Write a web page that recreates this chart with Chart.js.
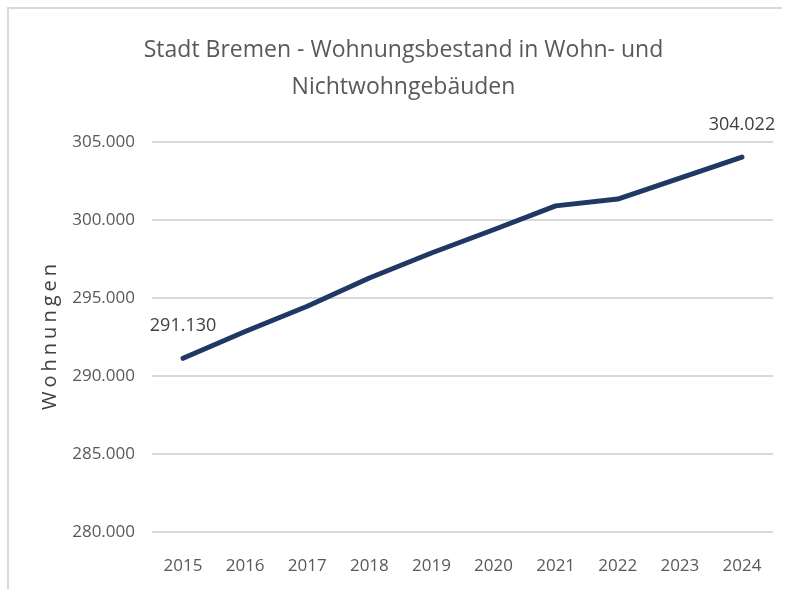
<!DOCTYPE html>
<html>
<head>
<meta charset="utf-8">
<script src="https://cdn.jsdelivr.net/npm/chart.js@4/dist/chart.umd.min.js"></script>
<style>
  html, body { margin: 0; padding: 0; background: #ffffff; }
  #wrap { width: 787px; height: 589px; position: relative; }
</style>
</head>
<body>
<div id="wrap"><canvas id="c" width="787" height="589"></canvas></div>
<script>
const categories = ['2015', '2016', '2017', '2018', '2019', '2020', '2021', '2022', '2023', '2024'];
const wohnungen = [291130, 292850, 294470, 296280, 297880, 299370, 300900, 301340, 302680, 304022];
const labeledIndices = [0, 9];
const titleLines = ['Stadt Bremen - Wohnungsbestand in Wohn- und', 'Nichtwohngebäuden'];
const yAxisTitle = 'Wohnungen';

function fmt(v) {
  return String(Math.round(v)).replace(/\B(?=(\d{3})+(?!\d))/g, '.');
}

const FONT = "'Open Sans', 'Noto Sans', sans-serif";

const frame = {
  id: 'frame',
  beforeDraw(chart) {
    const ctx = chart.ctx;
    ctx.save();
    ctx.strokeStyle = '#d9d9d9';
    ctx.lineWidth = 2;
    ctx.beginPath();
    ctx.moveTo(8, 589);
    ctx.lineTo(8, 8);
    ctx.lineTo(782, 8);
    ctx.stroke();
    ctx.restore();
  }
};

const yTitle = {
  id: 'yTitle',
  afterDraw(chart) {
    const ctx = chart.ctx;
    const area = chart.chartArea;
    ctx.save();
    ctx.translate(50, (area.top + area.bottom) / 2);
    ctx.rotate(-Math.PI / 2);
    ctx.font = "20px " + FONT;
    ctx.letterSpacing = '4px';
    ctx.fillStyle = '#404040';
    ctx.textAlign = 'center';
    ctx.textBaseline = 'middle';
    ctx.fillText(yAxisTitle, 2, 0);
    ctx.restore();
  }
};

const valueLabels = {
  id: 'valueLabels',
  afterDatasetsDraw(chart) {
    const ctx = chart.ctx;
    const meta = chart.getDatasetMeta(0);
    ctx.save();
    ctx.font = "18px " + FONT;
    ctx.fillStyle = '#404040';
    ctx.textAlign = 'center';
    ctx.textBaseline = 'middle';
    labeledIndices.forEach(i => {
      const pt = meta.data[i];
      ctx.fillText(fmt(wohnungen[i]), pt.x, pt.y - 32);
    });
    ctx.restore();
  }
};

new Chart(document.getElementById('c'), {
  type: 'line',
  data: {
    labels: categories,
    datasets: [{
      data: wohnungen,
      borderColor: '#203864',
      borderWidth: 5,
      borderCapStyle: 'round',
      borderJoinStyle: 'round',
      pointRadius: 0,
      tension: 0,
      fill: false
    }]
  },
  options: {
    responsive: false,
    animation: false,
    layout: { padding: { left: 34, right: 14, top: 0, bottom: 0 } },
    plugins: {
      legend: { display: false },
      tooltip: { enabled: false },
      title: {
        display: true,
        text: titleLines,
        color: '#595959',
        font: { family: FONT, size: 23, weight: 'normal', lineHeight: 1.65 },
        padding: { top: 31, bottom: 35 }
      }
    },
    scales: {
      x: {
        offset: true,
        grid: { display: false, offset: true },
        border: { display: false },
        ticks: {
          color: '#595959',
          font: { family: FONT, size: 17 },
          padding: 16,
          maxRotation: 0
        },
        afterFit(scale) { scale.height = 57; }
      },
      y: {
        min: 280000,
        max: 305000,
        grid: { color: '#d9d9d9', lineWidth: 2, drawTicks: false },
        border: { display: false },
        ticks: {
          stepSize: 5000,
          color: '#595959',
          font: { family: FONT, size: 17 },
          padding: 17,
          callback: v => fmt(v)
        },
        afterFit(scale) { scale.width = 118; }
      }
    }
  },
  plugins: [frame, yTitle, valueLabels]
});
</script>
</body>
</html>
